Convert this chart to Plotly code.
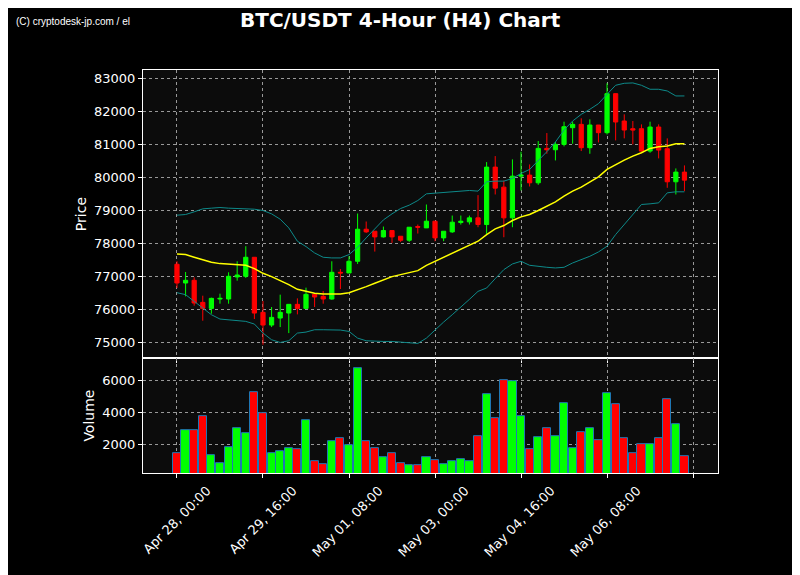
import plotly.graph_objects as go
from plotly.subplots import make_subplots

idx = list(range(60))
opens = [77374,76808,76889,76222,76040,76323,76323,76990,77010,77586,75920,75536,75748,75899,76162,76040,76465,76404,76323,77131,
         77111,77465,78434,78374,78202,78394,78222,78101,78515,78475,78677,78172,78354,78636,78657,78778,78576,80313,79707,78778,
         80040,80071,79838,80879,80838,81000,81505,81606,80899,81586,81354,82535,81707,81475,81475,80798,81525,80869,79869,80162]
closes = [76808,76889,76202,76040,76343,76343,77010,77050,77586,75899,75536,75768,75920,76162,76040,76465,76384,76323,77131,77111,
          77465,78434,78354,78202,78394,78202,78101,78495,78495,78677,78172,78374,78647,78677,78778,78576,80313,79677,78778,80040,
          80071,79838,80879,80838,81000,81535,81606,80899,81586,81354,82535,81677,81434,81434,80798,81525,80828,79869,80162,79919]
highs = [77465,77141,76980,76424,76364,76485,77131,77465,77920,77586,76263,76081,76455,76162,76343,76667,76465,76566,77465,77232,
         77616,78909,78667,78374,78515,78394,78222,78495,78576,79182,78677,78374,78848,78848,78848,79465,80465,80646,79909,80546,
         80778,80394,81101,81343,81071,81687,81687,81788,81758,81586,82848,82535,81909,81707,81606,81687,81606,81182,80273,80364]
lows = [76657,76404,76121,75667,75879,76182,76182,76879,76960,75718,74940,75475,75475,75293,75859,76040,76081,76182,76303,76626,
        77111,77384,78323,77758,78182,78020,78050,78050,78303,78475,78071,78071,78323,78575,78576,78495,78293,79485,78192,78495,
        79606,79727,79777,80717,80515,80940,81020,80798,80717,81060,81300,81121,81182,81000,80778,80747,80576,79687,79485,79586]
volumes = [1440,2875,2875,3750,1375,875,1875,3000,2690,5250,3940,1500,1625,1810,1690,3500,940,810,2250,2375,
           2000,6750,2190,1810,1190,1500,875,750,690,1190,1060,810,940,1125,940,2560,5125,3625,6000,5940,
           3750,1690,2440,3000,2500,4560,1810,2750,3000,2310,5190,4500,2375,1440,2060,2060,2375,4810,3310,1310]
sma = [77687,77667,77586,77505,77434,77394,77384,77374,77343,77242,77101,77000,76889,76757,76616,76555,76495,76475,76475,76475,
       76515,76596,76697,76798,76899,77000,77061,77121,77182,77343,77465,77586,77707,77828,77949,78071,78273,78444,78545,78697,
       78808,78879,79000,79121,79263,79434,79586,79707,79859,80020,80242,80394,80525,80646,80747,80879,80929,80949,81020,81020]
upper = [78859,78879,78960,79050,79071,79091,79071,79061,79061,79040,79000,78899,78737,78475,78071,77909,77717,77586,77566,77566,
         77667,77889,78172,78434,78717,78899,79061,79162,79303,79505,79525,79535,79566,79596,79606,79586,79869,79889,79889,79970,
         80121,80242,80495,80778,81071,81434,81707,81909,82061,82232,82515,82788,82848,82859,82788,82667,82667,82616,82465,82465]
lower = [76515,76455,76253,76050,75848,75717,75687,75667,75647,75566,75293,75091,75010,75061,75293,75323,75394,75394,75384,75384,
         75343,75141,75061,75040,75040,75040,75020,75000,74980,75141,75394,75626,75848,76071,76313,76555,76657,76939,77212,77384,
         77465,77343,77303,77283,77263,77283,77414,77515,77616,77747,77919,78273,78576,78879,79182,79202,79232,79535,79566,79566]
tick_vals = [0, 10, 20, 30, 40, 50, 60]
tick_text = ["Apr 28, 00:00", "Apr 29, 16:00", "May 01, 08:00", "May 03, 00:00", "May 04, 16:00", "May 06, 08:00", ""]
price_ticks = [75000, 76000, 77000, 78000, 79000, 80000, 81000, 82000, 83000]
vol_ticks = [2000, 4000, 6000]

vol_colors = ["#00ff00" if c >= o else "#ff0000" for o, c in zip(opens, closes)]

L, T, PW, PH = 135, 62, 575, 403

fig = make_subplots(rows=2, cols=1, shared_xaxes=True, vertical_spacing=0, row_heights=[0.715, 0.285])
fig.add_trace(go.Scatter(x=idx, y=upper, mode="lines", line=dict(color="#0e8a8a", width=1)), 1, 1)
fig.add_trace(go.Scatter(x=idx, y=lower, mode="lines", line=dict(color="#0e8a8a", width=1)), 1, 1)
fig.add_trace(go.Candlestick(x=idx, open=opens, high=highs, low=lows, close=closes,
                             increasing=dict(line=dict(color="#00ff00", width=1), fillcolor="#00ff00"),
                             decreasing=dict(line=dict(color="#ff0000", width=1), fillcolor="#ff0000"),
                             whiskerwidth=0), 1, 1)
fig.add_trace(go.Scatter(x=idx, y=sma, mode="lines", line=dict(color="#ffff00", width=1.5)), 1, 1)
fig.add_trace(go.Bar(x=idx, y=volumes, marker=dict(color=vol_colors, line=dict(color="#1f77b4", width=1)), width=0.95), 2, 1)

ax = dict(showgrid=True, gridcolor="#999999", griddash="dot", gridwidth=0.8, zeroline=False, automargin=False,
          showline=True, linecolor="white", linewidth=1, mirror=True, ticks="outside", tickcolor="white", ticklen=4,
          tickfont=dict(color="white", size=13, family="DejaVu Sans"))
fig.update_xaxes(**ax, range=[-3.95, 62.9], tickvals=tick_vals, ticktext=tick_text, rangeslider_visible=False)
fig.update_xaxes(tickangle=-45, ticklabelshift=30, ticklabelstandoff=0, row=2, col=1)
fig.update_yaxes(**ax)
fig.update_yaxes(range=[74535, 83250], tickvals=price_ticks, ticktext=[str(v) for v in price_ticks],
                 title=dict(text="Price", standoff=4, font=dict(color="white", size=14, family="DejaVu Sans")), row=1, col=1)
fig.update_yaxes(range=[230, 7400], tickvals=vol_ticks, ticktext=[str(v) for v in vol_ticks],
                 title=dict(text="Volume", standoff=4, font=dict(color="white", size=14, family="DejaVu Sans")), row=2, col=1)
fig.update_layout(width=800, height=575, paper_bgcolor="black", plot_bgcolor="#0c0c0c", showlegend=False,
                  margin=dict(l=L, r=800 - L - PW, t=T, b=575 - T - PH), bargap=0,
                  annotations=[
                      dict(text="<b>BTC/USDT 4-Hour (H4) Chart</b>", xref="paper", yref="paper",
                           x=(392 - L) / PW, y=1 + (T + 2) / PH, xanchor="center", yanchor="top", showarrow=False,
                           font=dict(color="white", size=20, family="DejaVu Sans")),
                      dict(text="(C) cryptodesk-jp.com / el", xref="paper", yref="paper",
                           x=(6 - L) / PW, y=1 + (T - 13) / PH, xanchor="left", yanchor="middle", showarrow=False,
                           font=dict(color="white", size=10, family="Liberation Sans"))])
fig.write_html("out.html")
